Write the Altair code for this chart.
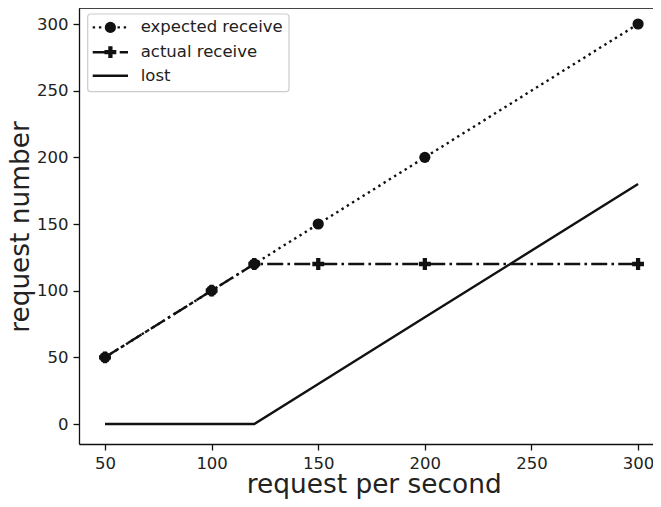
import altair as alt
import pandas as pd

# ---- data ----
rps = [50, 100, 120, 150, 200, 300]
expected = [50, 100, 120, 150, 200, 300]
actual = [50, 100, 120, 120, 120, 120]
lost = [0, 0, 0, 30, 80, 180]
series_names = ["expected receive", "actual receive", "lost"]
x_ticks = [50, 100, 150, 200, 250, 300]
y_ticks = [0, 50, 100, 150, 200, 250, 300]

df = pd.DataFrame({"rps": rps, "expected": expected, "actual": actual, "lost": lost})

FONT = "DejaVu Sans"
TXT = "#222222"
INK = "#111111"
W, H = 574, 436
LW = 2.4
DOT = [2.4, 3.8]
DASHDOT = [16, 4.2, 2.6, 4.2]
PLUS = "M-0.36,-1H0.36V-0.36H1V0.36H0.36V1H-0.36V0.36H-1V-0.36H-0.36Z"

xscale = alt.Scale(domain=[37.8, 307.0], nice=False, zero=False)
yscale = alt.Scale(domain=[-15, 312], nice=False, zero=False)

xaxis = alt.Axis(
    values=x_ticks, title="request per second", grid=False,
    titleFont=FONT, titleFontSize=26.4, titleFontWeight="normal", titleColor=TXT,
    titleX=294.7, titleY=48.5, titleBaseline="alphabetic", titleAlign="center",
    labelFont=FONT, labelFontSize=16.5, labelColor=TXT, labelPadding=5,
    labelFlush=False, labelOverlap=False,
    tickSize=6, tickWidth=1.3, tickColor=INK,
    domainColor=INK, domainWidth=1.3,
)
yaxis = alt.Axis(
    values=y_ticks, title="request number", grid=False,
    titleFont=FONT, titleFontSize=26.4, titleFontWeight="normal", titleColor=TXT,
    titleX=-51, titleY=218.5, titleBaseline="alphabetic", titleAlign="center", titleAngle=270,
    labelFont=FONT, labelFontSize=16.5, labelColor=TXT, labelPadding=5,
    labelFlush=False, labelOverlap=False,
    tickSize=6, tickWidth=1.3, tickColor=INK,
    domainColor=INK, domainWidth=1.3,
)

base = alt.Chart(df)
X = alt.X("rps:Q", scale=xscale, axis=xaxis)


def Y(field):
    return alt.Y(f"{field}:Q", scale=yscale, axis=yaxis)


exp_line = base.mark_line(color=INK, strokeWidth=LW, strokeDash=DOT).encode(x=X, y=Y("expected"))
exp_pts = base.mark_point(shape="circle", filled=True, size=125, color=INK, opacity=1).encode(x=X, y=Y("expected"))
act_line = base.mark_line(color=INK, strokeWidth=LW, strokeDash=DASHDOT).encode(x=X, y=Y("actual"))
act_pts = base.mark_point(shape=PLUS, filled=True, size=140, color=INK, opacity=1).encode(x=X, y=Y("actual"))
lost_line = base.mark_line(color=INK, strokeWidth=LW).encode(x=X, y=Y("lost"))

# top frame line (the right spine is outside the visible area in the reference)
top_rule = alt.Chart(pd.DataFrame({"a": [0]})).mark_rule(color=INK, strokeWidth=1.3).encode(
    x=alt.value(0), x2=alt.value(W), y=alt.value(0)
)

# ---- legend (upper left, matplotlib-style) ----
LX0, LX1, LY0, LY1 = 8.7, 210, 6, 83.7
rows_y = [19.4, 44.2, 67.7]
S0, S1, SM, TX = 13.7, 49, 31.4, 61.7

legend_box = alt.Chart(pd.DataFrame({"a": [0]})).mark_rect(
    fill="white", fillOpacity=0.8, stroke="#cccccc", strokeWidth=1.2, cornerRadius=3
).encode(x=alt.value(LX0), x2=alt.value(LX1), y=alt.value(LY0), y2=alt.value(LY1))

legend_layers = [legend_box]
dashes = [DOT, DASHDOT, None]
shapes = ["circle", PLUS, None]
sizes = [125, 140, None]
for i, name in enumerate(series_names):
    ldf = pd.DataFrame({"label": [name]})
    rule_kw = dict(color=INK, strokeWidth=LW)
    if dashes[i] is not None:
        rule_kw["strokeDash"] = dashes[i]
    legend_layers.append(
        alt.Chart(ldf).mark_rule(**rule_kw).encode(
            x=alt.value(S0), x2=alt.value(S1), y=alt.value(rows_y[i])
        )
    )
    if shapes[i] is not None:
        legend_layers.append(
            alt.Chart(ldf).mark_point(shape=shapes[i], filled=True, size=sizes[i], color=INK, opacity=1).encode(
                x=alt.value(SM), y=alt.value(rows_y[i])
            )
        )
    legend_layers.append(
        alt.Chart(ldf).mark_text(
            font=FONT, fontSize=16.5, color=TXT, align="left", baseline="middle"
        ).encode(x=alt.value(TX), y=alt.value(rows_y[i]), text="label:N")
    )

chart = alt.layer(
    exp_line, act_line, act_pts, exp_pts, lost_line, top_rule, *legend_layers
).properties(
    width=W, height=H,
    autosize=alt.AutoSizeParams(type="none"),
    padding={"left": 71, "top": 0, "right": 0, "bottom": 55},
).configure_view(stroke=None).configure(background="white")

chart.save("out.html", embed_options={"renderer": "svg", "actions": False})
